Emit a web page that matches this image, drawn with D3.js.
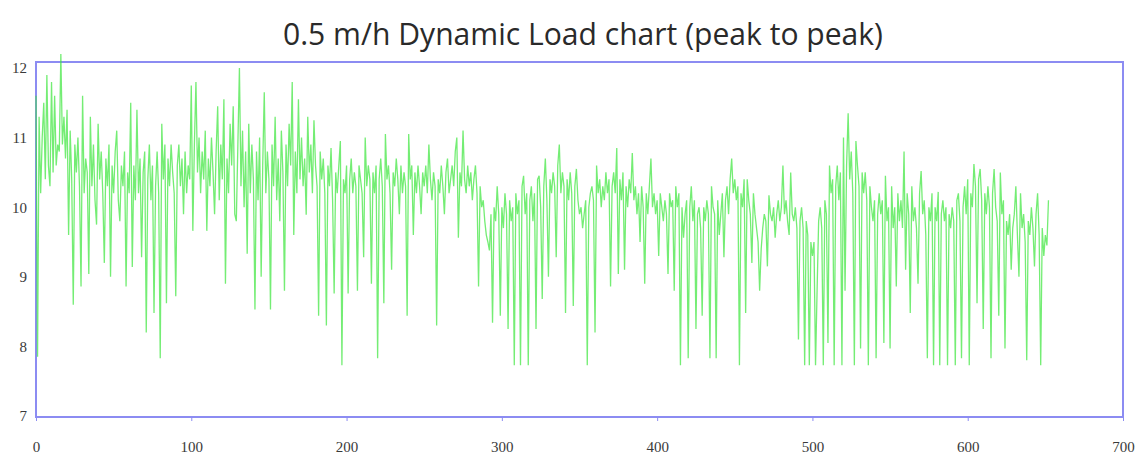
<!DOCTYPE html>
<html>
<head>
<meta charset="utf-8">
<script src="https://cdn.jsdelivr.net/npm/d3@7"></script>
<style>
  html, body { margin: 0; padding: 0; background: #ffffff; }
  svg { display: block; }
</style>
</head>
<body>
<svg id="chart" width="1140" height="460"></svg>
<script>
// Peak-to-peak dynamic load readings, one sample per step, in blocks of 100 samples.
const load000 = [
  11.6, 7.85, 11.3, 10.2, 11.0, 11.5, 10.4, 11.9, 10.6, 10.3,
  11.8, 10.5, 11.6, 10.6, 10.9, 10.8, 12.2, 10.9, 11.3, 10.7,
  11.4, 9.6, 11.1, 10.4, 8.6, 10.9, 10.5, 11.0, 10.3, 8.86,
  11.6, 10.2, 10.7, 10.5, 9.04, 11.3, 10.3, 10.9, 10.1, 9.75,
  11.2, 10.4, 10.8, 10.2, 9.2, 10.7, 10.3, 10.9, 9.0, 10.6,
  10.2, 10.8, 11.1, 10.1, 9.8, 10.6, 10.3, 10.8, 8.86, 10.5,
  10.2, 11.5, 9.14, 10.6, 10.1, 11.4, 10.2, 10.7, 9.28, 10.5,
  10.8, 8.2, 10.4, 10.9, 10.1, 10.6, 8.48, 10.3, 10.8, 10.2,
  7.83, 11.2, 10.4, 10.9, 8.62, 10.7, 10.3, 10.9, 10.5, 10.2,
  8.72, 10.6, 10.9, 10.3, 10.7, 9.9, 10.8, 10.2, 10.6, 10.4
];
const load100 = [
  11.75, 9.66, 10.9, 11.8, 10.5, 11.0, 10.2, 10.8, 10.4, 11.1,
  9.66, 10.7, 10.3, 11.0, 10.5, 9.9, 10.8, 11.45, 10.1, 10.9,
  10.4, 11.55, 8.9, 10.7, 10.2, 11.2, 10.6, 11.45, 9.9, 9.8,
  10.9, 12.0, 10.3, 11.1, 10.0, 10.8, 9.33, 11.2, 10.2, 10.9,
  10.4, 8.53, 10.8, 10.1, 11.0, 9.0, 10.6, 11.65, 10.2, 10.8,
  10.4, 8.53, 10.9, 10.3, 11.3, 10.1, 10.7, 9.8, 11.1, 10.5,
  8.8, 10.9, 10.3, 11.2, 10.6, 11.8, 9.6, 10.8, 10.2, 11.55,
  10.4, 11.0, 10.3, 10.7, 9.89, 11.3, 10.5, 10.9, 10.2, 11.25,
  10.6, 10.3, 8.44, 10.8, 10.4, 10.7, 10.2, 8.3, 10.6, 10.3,
  10.85, 10.1, 8.76, 10.5, 10.2, 10.6, 10.95, 7.73, 10.4, 10.2
];
const load200 = [
  10.6, 8.76, 10.4, 10.7, 10.2, 10.5, 10.3, 8.8, 10.6, 10.4,
  10.2, 9.28, 11.0, 10.3, 10.6, 10.4, 8.9, 10.5, 10.2, 10.6,
  7.83, 10.4, 10.7, 10.3, 8.62, 11.05, 10.4, 10.6, 10.2, 9.1,
  10.5, 10.3, 10.7, 10.4, 9.9, 10.6, 10.2, 10.5, 10.3, 8.44,
  11.05, 10.4, 10.6, 9.6, 10.5, 10.2, 10.6, 10.3, 9.9, 10.5,
  10.3, 10.6, 10.2, 10.9, 10.4, 10.1, 10.5, 10.3, 8.3, 10.4,
  10.2, 10.6, 10.3, 9.9, 10.5, 10.7, 10.2, 10.4, 10.6, 10.3,
  10.8, 11.0, 9.56, 10.5, 10.3, 11.1, 10.4, 10.2, 10.6, 10.3,
  10.5, 10.1, 10.4, 10.6, 10.2, 8.86, 10.3, 10.0, 10.1, 9.8,
  9.6, 9.5, 9.38, 9.9, 8.34, 10.0, 9.8, 10.3, 9.9, 8.44
];
const load300 = [
  10.0, 9.7, 10.2, 9.9, 8.25, 10.1, 9.8, 10.0, 7.73, 10.2,
  9.9, 10.1, 7.73, 10.3, 10.45, 9.9, 10.2, 7.73, 10.1, 10.3,
  9.8, 10.2, 8.25, 10.4, 10.45, 10.0, 8.68, 10.3, 10.7, 10.1,
  9.0, 10.4, 10.2, 10.5, 10.3, 9.28, 10.6, 10.9, 10.2, 10.5,
  10.3, 8.48, 10.4, 10.1, 10.5, 10.2, 8.58, 10.3, 10.55, 10.1,
  9.9, 10.0, 9.7, 9.9, 10.1, 7.73, 10.0, 10.2, 10.3, 10.1,
  8.2, 10.6, 10.2, 10.4, 10.0, 10.3, 10.1, 10.5, 10.2, 10.4,
  8.86, 10.3, 10.5, 10.2, 10.85, 9.04, 10.4, 10.1, 10.5, 9.1,
  10.3, 10.0, 10.4, 10.2, 10.78, 10.1, 10.3, 9.9, 10.2, 9.5,
  10.3, 10.0, 8.9, 10.2, 9.9, 10.3, 10.7, 10.0, 10.2, 9.9
];
const load400 = [
  10.1, 9.3, 10.2, 10.0, 9.8, 10.1, 9.9, 9.04, 10.2, 10.0,
  10.1, 8.8, 10.3, 10.0, 10.2, 7.73, 10.0, 9.56, 9.9, 10.1,
  7.83, 10.0, 10.3, 9.8, 10.1, 8.25, 9.9, 10.0, 9.7, 8.44,
  10.0, 9.8, 10.1, 9.9, 7.83, 10.3, 10.0, 9.9, 7.83, 10.1,
  9.6, 9.9, 10.2, 9.28, 10.1, 10.3, 9.9, 10.4, 10.7, 10.2,
  10.4, 10.1, 10.3, 7.73, 10.2, 10.0, 10.4, 8.48, 10.4, 10.1,
  9.9, 9.2, 10.2, 9.9, 9.7, 9.5, 8.8, 9.4, 9.7, 9.9,
  9.8, 9.15, 10.17, 9.9, 9.8, 10.0, 9.56, 9.9, 10.1, 9.8,
  10.0, 10.6, 9.9, 10.1, 9.8, 9.6, 10.5, 9.9, 9.8, 10.0,
  9.7, 8.1, 9.8, 10.0, 9.7, 7.73, 9.8, 9.6, 7.73, 9.5
];
const load500 = [
  9.3, 9.5, 7.73, 8.8, 9.8, 10.0, 9.7, 7.73, 10.1, 9.9,
  8.05, 10.6, 10.2, 10.4, 7.73, 10.3, 10.6, 10.1, 10.5, 7.73,
  11.0, 8.8, 10.6, 11.35, 10.4, 10.8, 10.2, 7.73, 10.95, 10.6,
  10.3, 7.97, 10.5, 10.2, 10.5, 10.1, 7.73, 10.3, 10.0, 9.8,
  10.1, 7.83, 9.9, 10.2, 9.9, 10.1, 8.05, 10.45, 9.8, 10.0,
  7.97, 10.3, 9.7, 10.0, 8.86, 10.2, 9.8, 10.1, 9.7, 10.8,
  9.1, 10.2, 9.9, 8.48, 10.3, 9.8, 10.0, 9.7, 8.9, 10.2,
  10.52, 9.9, 10.1, 9.6, 7.83, 10.0, 9.8, 10.2, 7.73, 10.0,
  9.8, 10.22, 7.73, 9.9, 10.1, 9.8, 10.0, 7.73, 9.9, 9.7,
  10.0, 9.8, 7.73, 10.1, 10.2, 9.8, 7.83, 10.0, 10.3, 9.9
];
const load600 = [
  10.4, 7.73, 10.2, 10.0, 10.62, 10.3, 8.62, 10.4, 10.55, 10.1,
  8.25, 10.2, 9.9, 10.3, 10.0, 7.83, 10.2, 10.55, 10.0, 9.8,
  8.44, 10.5, 9.9, 10.1, 7.97, 9.8, 9.6, 9.9, 9.1, 9.7,
  9.9, 10.3, 9.6, 9.0, 10.2, 9.7, 9.9, 9.5, 7.8, 9.8,
  9.6, 10.0, 9.7, 9.15, 9.9, 10.2, 9.6, 7.73, 9.7, 9.3,
  9.6, 9.45, 10.1
];

const loadValues = [].concat(load000, load100, load200, load300, load400, load500, load600);

// Axis ticks
const xTicks = [0, 100, 200, 300, 400, 500, 600, 700];
const yTicks = [7, 8, 9, 10, 11, 12];

const titleText = "0.5 m/h Dynamic Load chart (peak to peak)";

const svg = d3.select("#chart");

const frame = { left: 36, right: 1123, top: 62, bottom: 417 };

const x = d3.scaleLinear().domain([0, 700]).range([frame.left, frame.right]);
const y = d3.scaleLinear().domain([7, 12]).range([416, 68]);

// Title
svg.append("text")
  .attr("x", 583)
  .attr("y", 45)
  .attr("text-anchor", "middle")
  .attr("font-family", "'Open Sans', 'Noto Sans', sans-serif")
  .attr("font-size", 31)
  .attr("fill", "#2a2a2a")
  .attr("textLength", 600)
  .attr("lengthAdjust", "spacingAndGlyphs")
  .text(titleText);

// Plot frame
svg.append("rect")
  .attr("x", frame.left)
  .attr("y", frame.top)
  .attr("width", frame.right - frame.left)
  .attr("height", frame.bottom - frame.top)
  .attr("fill", "none")
  .attr("stroke", "#8c8cf2")
  .attr("stroke-width", 2);

// Load trace
const line = d3.line()
  .x((d, i) => x(i))
  .y(d => y(d));

svg.append("path")
  .datum(loadValues)
  .attr("d", line)
  .attr("fill", "none")
  .attr("stroke", "#3fe63f")
  .attr("stroke-opacity", 0.72)
  .attr("stroke-width", 1.3)
  .attr("stroke-linejoin", "miter");

// X axis
const xAxis = d3.axisBottom(x)
  .tickValues(xTicks)
  .tickSize(4)
  .tickPadding(20)
  .tickFormat(d3.format("d"));

const gx = svg.append("g")
  .attr("transform", `translate(0,${frame.bottom})`)
  .call(xAxis);
gx.select(".domain").remove();
gx.selectAll(".tick line").attr("stroke", "#8c8cf2");
gx.selectAll(".tick text")
  .attr("font-family", "'Liberation Serif', 'DejaVu Serif', serif")
  .attr("font-size", 15)
  .attr("fill", "#3a3a3a");

// Y axis
const yAxis = d3.axisLeft(y)
  .tickValues(yTicks)
  .tickSize(0)
  .tickPadding(9)
  .tickFormat(d3.format("d"));

const gy = svg.append("g")
  .attr("transform", `translate(${frame.left},0)`)
  .call(yAxis);
gy.select(".domain").remove();
gy.selectAll(".tick text")
  .attr("font-family", "'Liberation Serif', 'DejaVu Serif', serif")
  .attr("font-size", 15)
  .attr("fill", "#3a3a3a");
</script>
</body>
</html>
